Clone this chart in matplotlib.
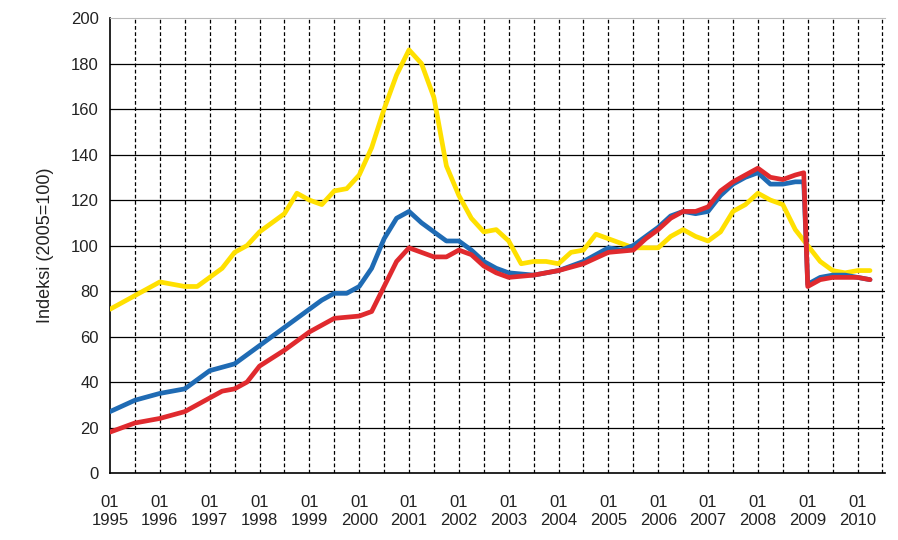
import matplotlib
matplotlib.use("Agg")
import matplotlib.pyplot as plt
import numpy as np

plt.rcParams['font.family'] = ['Liberation Sans', 'DejaVu Sans']

yel_x = [1995.0,1995.5,1996.0,1996.25,1996.5,1996.75,1997.0,1997.25,1997.5,1997.75,1998.0,1998.25,1998.5,1998.75,1999.0,1999.25,1999.5,1999.75,2000.0,2000.25,2000.5,2000.75,2001.0,2001.25,2001.5,2001.75,2002.0,2002.25,2002.5,2002.75,2003.0,2003.25,2003.5,2003.75,2004.0,2004.25,2004.5,2004.75,2005.0,2005.25,2005.5,2005.75,2006.0,2006.25,2006.5,2006.75,2007.0,2007.25,2007.5,2007.75,2008.0,2008.25,2008.5,2008.75,2009.0,2009.25,2009.5,2009.75,2010.0,2010.25]
yel_y = [72,78,84,83,82,82,86,90,97,100,106,110,114,123,120,118,124,125,131,143,160,175,186,180,165,135,122,112,106,107,102,92,93,93,92,97,98,105,103,101,99,99,99,104,107,104,102,106,115,118,123,120,118,107,100,93,89,88,89,89]

blue_x = [1995.0,1995.5,1996.0,1996.5,1997.0,1997.5,1998.0,1998.5,1999.0,1999.25,1999.5,1999.75,2000.0,2000.25,2000.5,2000.75,2001.0,2001.25,2001.5,2001.75,2002.0,2002.25,2002.5,2002.75,2003.0,2003.5,2004.0,2004.5,2005.0,2005.25,2005.5,2005.75,2006.0,2006.25,2006.5,2006.75,2007.0,2007.25,2007.5,2007.75,2008.0,2008.25,2008.5,2008.75,2008.92,2009.0,2009.25,2009.5,2009.75,2010.0,2010.25]
blue_y = [27,32,35,37,45,48,56,64,72,76,79,79,82,90,103,112,115,110,106,102,102,98,93,90,88,87,89,93,99,98,100,104,108,113,115,114,115,122,127,130,132,127,127,128,128,83,86,87,87,86,85]

red_x = [1995.0,1995.5,1996.0,1996.5,1997.0,1997.25,1997.5,1997.75,1998.0,1998.5,1999.0,1999.5,2000.0,2000.25,2000.5,2000.75,2001.0,2001.25,2001.5,2001.75,2002.0,2002.25,2002.5,2002.75,2003.0,2003.5,2004.0,2004.5,2005.0,2005.5,2005.75,2006.0,2006.25,2006.5,2006.75,2007.0,2007.25,2007.5,2007.75,2008.0,2008.25,2008.5,2008.75,2008.92,2009.0,2009.25,2009.5,2009.75,2010.0,2010.25]
red_y = [18,22,24,27,33,36,37,40,47,54,62,68,69,71,82,93,99,97,95,95,98,96,91,88,86,87,89,92,97,98,103,107,112,115,115,117,124,128,131,134,130,129,131,132,82,85,86,86,86,85]

years = list(range(1995, 2011))
tick_labels = [f"01\n{y}" for y in years]

fig = plt.figure(figsize=(8.98, 5.4), dpi=100)
ax = fig.add_axes([0.1225, 0.124, 0.863, 0.8426])
ax.set_xlim(1995, 2010.55)
ax.set_ylim(0, 200)

for y in range(20, 200, 20):
    ax.axhline(y, color="black", lw=0.9, zorder=1)
for x in np.arange(1995.5, 2010.6, 0.5):
    ax.axvline(x, color="black", lw=0.9, ls=(0, (3, 2)), zorder=1)

kw = dict(lw=3.4, solid_joinstyle="round", solid_capstyle="round")
ax.plot(yel_x, yel_y, color="#FFE000", zorder=3, **kw)
ax.plot(blue_x, blue_y, color="#1F6BB4", zorder=4, **kw)
ax.plot(red_x, red_y, color="#E02A2E", zorder=5, **kw)

ax.set_xticks(years)
ax.set_xticklabels(tick_labels)
ax.set_yticks(range(0, 201, 20))
ax.tick_params(axis="both", length=0, labelsize=12, colors="#222222")
ax.tick_params(axis="x", pad=16)
ax.tick_params(axis="y", pad=8)
ax.spines["right"].set_visible(False)
ax.spines["top"].set_color("#bbbbbb")
ax.spines["left"].set_linewidth(1.2)
ax.spines["bottom"].set_linewidth(1.2)
ax.set_ylabel("Indeksi (2005=100)", fontsize=13, labelpad=12, color="#222222")

fig.savefig("out.png", dpi=100)
